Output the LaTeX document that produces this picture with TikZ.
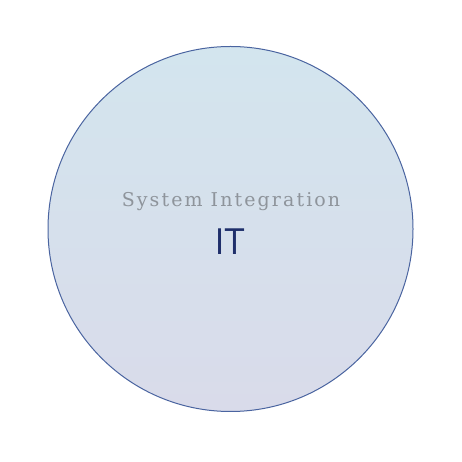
\documentclass[tikz,border=0pt]{standalone}
\usepackage{fontspec}
\setmainfont{Liberation Serif}
\newfontfamily\sysfont[LetterSpace=11]{DejaVu Serif}
\newfontfamily\itfont{Open Sans}
\definecolor{rim}{HTML}{4A64A0}
\definecolor{topc}{HTML}{D3E5EE}
\definecolor{botc}{HTML}{D9DBEA}
\definecolor{graytxt}{HTML}{8E949B}
\definecolor{navy}{HTML}{1F2F6B}
\begin{document}
\begin{tikzpicture}[x=1pt,y=1pt]
\useasboundingbox (0,0) rectangle (462,462);
\shade[top color=topc,bottom color=botc] (230.5,233) circle (182.5);
\node[circle,draw=rim,line width=1pt,minimum size=365pt,inner sep=0pt] (circ) at (230.5,233) {};
\node[text=graytxt,font=\sysfont\fontsize{19}{22}\selectfont,anchor=base] (sys) at (231,255) {System Integration};
\node[text=navy,font=\itfont\fontsize{36}{40}\selectfont,anchor=base] (it) at (229.5,207) {IT};
\end{tikzpicture}
\end{document}
